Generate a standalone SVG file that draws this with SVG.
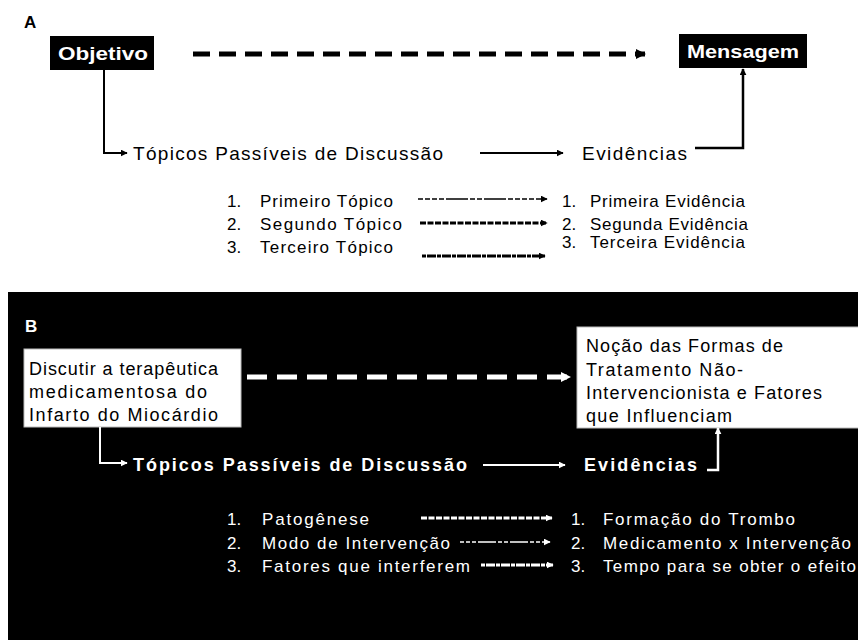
<svg xmlns="http://www.w3.org/2000/svg" width="858" height="640" viewBox="0 0 858 640">
<defs>
<marker id="ahB" viewBox="0 0 10 10" refX="9" refY="5" markerWidth="10" markerHeight="10" markerUnits="userSpaceOnUse" orient="auto"><path d="M0,0 L10,5 L0,10 z" fill="#000"/></marker>
<marker id="ahBs" viewBox="0 0 10 10" refX="9" refY="5" markerWidth="7" markerHeight="7" markerUnits="userSpaceOnUse" orient="auto"><path d="M0,0 L10,5 L0,10 z" fill="#000"/></marker>
<marker id="ahW" viewBox="0 0 10 10" refX="9" refY="5" markerWidth="10" markerHeight="10" markerUnits="userSpaceOnUse" orient="auto"><path d="M0,0 L10,5 L0,10 z" fill="#fff"/></marker>
<marker id="ahWs" viewBox="0 0 10 10" refX="9" refY="5" markerWidth="7" markerHeight="7" markerUnits="userSpaceOnUse" orient="auto"><path d="M0,0 L10,5 L0,10 z" fill="#fff"/></marker>
</defs>
<style>
text{font-family:"Liberation Sans",Arial,sans-serif}
.lab{font-weight:bold;font-size:17px}
.hb{font-weight:bold;font-size:19px;fill:#fff}
.main{font-size:19px;fill:#000}
.li{font-size:17px;fill:#000}
.bx{font-size:18px;fill:#000}
.wm{font-size:18px;font-weight:bold;fill:#fff}
.wl{font-size:17px;fill:#fff}
.k{stroke:#000;fill:none}
.w{stroke:#fff;fill:none}
</style>
<rect x="0" y="0" width="858" height="640" fill="#fff"/>
<rect x="8" y="292" width="850" height="348" fill="#000"/>

<!-- Panel A -->
<text class="lab" x="24" y="28">A</text>
<g id="objetivo">
<rect x="50" y="36" width="104" height="34" fill="#000"/>
<text class="hb" x="58" y="60" textLength="90" lengthAdjust="spacingAndGlyphs">Objetivo</text>
</g>
<g id="mensagem">
<rect x="679" y="34" width="128" height="34" fill="#000"/>
<text class="hb" x="687" y="58" textLength="112" lengthAdjust="spacingAndGlyphs">Mensagem</text>
</g>
<g id="topicosA"><text class="main" x="133" y="160" textLength="310" lengthAdjust="spacing">Tópicos Passíveis de Discussão</text></g>
<g id="evidenciasA"><text class="main" x="582" y="160" textLength="105" lengthAdjust="spacing">Evidências</text></g>
<g id="listaA">
<text class="li" x="227" y="207">1.</text><text class="li" x="260" y="207" textLength="133" lengthAdjust="spacing">Primeiro Tópico</text>
<text class="li" x="227" y="230">2.</text><text class="li" x="260" y="230" textLength="142" lengthAdjust="spacing">Segundo Tópico</text>
<text class="li" x="227" y="253">3.</text><text class="li" x="260" y="253" textLength="133" lengthAdjust="spacing">Terceiro Tópico</text>
<text class="li" x="562" y="207">1.</text><text class="li" x="590" y="207" textLength="155" lengthAdjust="spacing">Primeira Evidência</text>
<text class="li" x="562" y="230">2.</text><text class="li" x="590" y="230" textLength="158" lengthAdjust="spacing">Segunda Evidência</text>
<text class="li" x="562" y="248">3.</text><text class="li" x="590" y="248" textLength="155" lengthAdjust="spacing">Terceira Evidência</text>
</g>

<!-- Panel B -->
<text class="lab" x="25" y="332" fill="#fff">B</text>
<g id="discutir">
<rect x="24" y="349" width="217" height="78" fill="#fff" stroke="#bbb" stroke-width="1"/>
<text class="bx" x="29" y="375" textLength="189" lengthAdjust="spacing">Discutir a terapêutica</text>
<text class="bx" x="29" y="398" textLength="178" lengthAdjust="spacing">medicamentosa do</text>
<text class="bx" x="29" y="421" textLength="189" lengthAdjust="spacing">Infarto do Miocárdio</text>
</g>
<g id="nocao">
<rect x="577" y="327" width="290" height="101" fill="#fff" stroke="#bbb" stroke-width="1"/>
<text class="bx" x="586" y="352" textLength="197" lengthAdjust="spacing">Noção das Formas de</text>
<text class="bx" x="586" y="376" textLength="157" lengthAdjust="spacing">Tratamento Não-</text>
<text class="bx" x="586" y="399" textLength="236" lengthAdjust="spacing">Intervencionista e Fatores</text>
<text class="bx" x="586" y="422" textLength="146" lengthAdjust="spacing">que Influenciam</text>
</g>
<g id="topicosB"><text class="wm" x="133" y="471" textLength="334" lengthAdjust="spacing">Tópicos Passíveis de Discussão</text></g>
<g id="evidenciasB"><text class="wm" x="584" y="471" textLength="113" lengthAdjust="spacing">Evidências</text></g>
<g id="listaB">
<text class="wl" x="227" y="525">1.</text><text class="wl" x="262" y="525" textLength="107" lengthAdjust="spacing">Patogênese</text>
<text class="wl" x="227" y="549">2.</text><text class="wl" x="262" y="549" textLength="188" lengthAdjust="spacing">Modo de Intervenção</text>
<text class="wl" x="227" y="572">3.</text><text class="wl" x="262" y="572" textLength="208" lengthAdjust="spacing">Fatores que interferem</text>
<text class="wl" x="571" y="525">1.</text><text class="wl" x="603" y="525" textLength="192" lengthAdjust="spacing">Formação do Trombo</text>
<text class="wl" x="571" y="549">2.</text><text class="wl" x="603" y="549" textLength="248" lengthAdjust="spacing">Medicamento x Intervenção</text>
<text class="wl" x="571" y="572">3.</text><text class="wl" x="603" y="572" textLength="253" lengthAdjust="spacing">Tempo para se obter o efeito</text>
</g>

<g id="connectors">
<!-- A -->
<line class="k" x1="193" y1="54" x2="645" y2="54" stroke-width="5" stroke-dasharray="17 9" marker-end="url(#ahB)"/>
<polyline class="k" points="104,70 104,153 127,153" stroke-width="2" marker-end="url(#ahBs)"/>
<line class="k" x1="480" y1="153" x2="563" y2="153" stroke-width="2" marker-end="url(#ahBs)"/>
<polyline class="k" points="695,148 743,148 743,69" stroke-width="2.5" marker-end="url(#ahBs)"/>
<line class="k" x1="418" y1="199" x2="547" y2="199" stroke-width="1.3" stroke-dasharray="5 2 5 2 5 2 5 2 22 2 5 2 5 2 22 2 5 2 5 2 5 2" marker-end="url(#ahBs)"/>
<line class="k" x1="420" y1="223" x2="547" y2="223" stroke-width="3" stroke-dasharray="6 1.5" marker-end="url(#ahBs)"/>
<line class="k" x1="422" y1="256" x2="545" y2="256" stroke-width="3" stroke-dasharray="4 1 9 1" marker-end="url(#ahBs)"/>
<!-- B -->
<line class="w" x1="247" y1="377" x2="570" y2="377" stroke-width="5" stroke-dasharray="20 10" marker-end="url(#ahW)"/>
<polyline class="w" points="100,427 100,463 127,463" stroke-width="2" marker-end="url(#ahWs)"/>
<line class="w" x1="483" y1="465" x2="565" y2="465" stroke-width="2" marker-end="url(#ahWs)"/>
<polyline class="w" points="707,470 718,470 718,428" stroke-width="2.5" marker-end="url(#ahWs)"/>
<line class="w" x1="421" y1="518" x2="552" y2="518" stroke-width="3" stroke-dasharray="6 1.5" marker-end="url(#ahWs)"/>
<line class="w" x1="460" y1="542" x2="550" y2="542" stroke-width="1.3" stroke-dasharray="4 2 4 2 4 2 18 2 4 2 4 2 18 2" marker-end="url(#ahWs)"/>
<line class="w" x1="481" y1="565" x2="553" y2="565" stroke-width="3" stroke-dasharray="4 1 9 1" marker-end="url(#ahWs)"/>
</g>
</svg>
